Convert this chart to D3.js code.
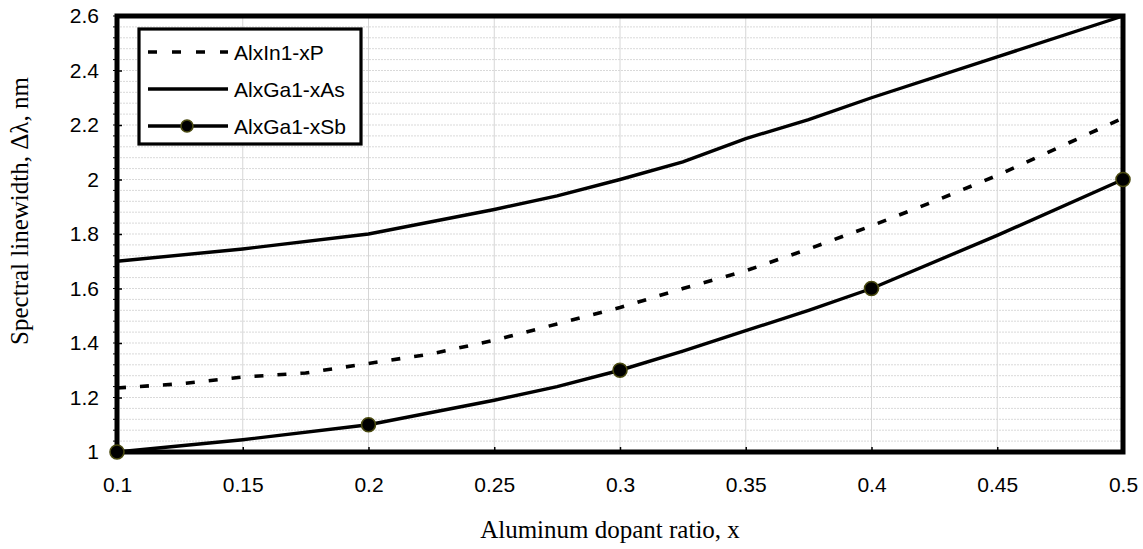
<!DOCTYPE html>
<html><head><meta charset="utf-8">
<script src="https://cdn.jsdelivr.net/npm/d3@7"></script>
<style>body{margin:0;background:#fff}</style>
</head><body>
<svg id="c" width="1143" height="549"></svg>
<script>
const xInP = [0.1,0.125,0.15,0.175,0.2,0.225,0.25,0.275,0.3,0.325,0.35,0.375,0.4,0.425,0.45,0.475,0.5];
const yInP = [1.235,1.25,1.275,1.29,1.325,1.36,1.41,1.47,1.53,1.60,1.665,1.745,1.83,1.92,2.015,2.12,2.225];
const xGaAs = [0.1,0.15,0.2,0.25,0.275,0.3,0.325,0.35,0.375,0.4,0.45,0.5];
const yGaAs = [1.70,1.745,1.80,1.89,1.94,2.00,2.065,2.15,2.22,2.30,2.45,2.60];
const xGaSb = [0.1,0.15,0.2,0.25,0.275,0.3,0.325,0.35,0.375,0.4,0.45,0.5];
const yGaSb = [1.0,1.045,1.10,1.19,1.24,1.30,1.37,1.445,1.52,1.60,1.795,2.0];
const xMarkers = [0.1,0.2,0.3,0.4,0.5];
const yMarkers = [1.0,1.1,1.3,1.6,2.0];
const xTicks = [0.1,0.15,0.2,0.25,0.3,0.35,0.4,0.45,0.5];
const yTicks = [1,1.2,1.4,1.6,1.8,2,2.2,2.4,2.6];
const seriesNames = ["AlxIn1-xP","AlxGa1-xAs","AlxGa1-xSb"];

const L=117,R=1123,T=16,B=452;
const svg=d3.select("#c");
const x=d3.scaleLinear().domain([0.1,0.5]).range([L,R]);
const y=d3.scaleLinear().domain([1,2.6]).range([B,T]);
const sans="Liberation Sans, Arial", serif="Liberation Serif, Times New Roman";

// gridlines
const minorY=d3.range(1,2.6001,0.04);
svg.append("g").selectAll("line").data(minorY).join("line")
  .attr("x1",L).attr("x2",R).attr("y1",d=>y(d)).attr("y2",d=>y(d))
  .attr("stroke","#d9d9d9").attr("stroke-width",1).attr("stroke-dasharray","2,1");
svg.append("g").selectAll("line").data(xTicks).join("line")
  .attr("x1",d=>x(d)).attr("x2",d=>x(d)).attr("y1",T).attr("y2",B)
  .attr("stroke","#d6d6d6").attr("stroke-width",1);

// axes ticks
const yAxis=d3.axisLeft(y).tickValues(yTicks).tickFormat(d3.format("")).tickSize(-5).tickPadding(18);
const gy=svg.append("g").attr("transform",`translate(${L},0)`).call(yAxis);
gy.select(".domain").remove();
gy.selectAll("line").attr("stroke","#000").attr("stroke-width",1.5);
gy.selectAll("text").attr("font-family",sans).attr("font-size",21).attr("fill","#000");
// minor ticks on left
svg.append("g").selectAll("line").data(minorY).join("line")
  .attr("x1",L-4).attr("x2",L).attr("y1",d=>y(d)).attr("y2",d=>y(d)).attr("stroke","#000").attr("stroke-width",1);

const xAxis=d3.axisBottom(x).tickValues(xTicks).tickFormat(d3.format("")).tickSize(-5).tickPadding(25);
const gx=svg.append("g").attr("transform",`translate(0,${B})`).call(xAxis);
gx.select(".domain").remove();
gx.selectAll("line").attr("stroke","#000").attr("stroke-width",1.5);
gx.selectAll("text").attr("font-family",sans).attr("font-size",21).attr("fill","#000");

// lines
const line=d3.line().x(d=>x(d[0])).y(d=>y(d[1]));
svg.append("path").datum(d3.zip(xInP,yInP)).attr("d",line)
  .attr("fill","none").attr("stroke","#000").attr("stroke-width",3.6).attr("stroke-dasharray","9,14");
svg.append("path").datum(d3.zip(xGaAs,yGaAs)).attr("d",line)
  .attr("fill","none").attr("stroke","#000").attr("stroke-width",3.4);
svg.append("path").datum(d3.zip(xGaSb,yGaSb)).attr("d",line)
  .attr("fill","none").attr("stroke","#000").attr("stroke-width",3.4);

// frame
svg.append("rect").attr("x",L).attr("y",T).attr("width",R-L).attr("height",B-T)
  .attr("fill","none").attr("stroke","#000").attr("stroke-width",5);

// markers
svg.append("g").selectAll("circle").data(d3.zip(xMarkers,yMarkers)).join("circle")
  .attr("cx",d=>x(d[0])).attr("cy",d=>y(d[1])).attr("r",7)
  .attr("fill","#000").attr("stroke","#4a4a10").attr("stroke-width",1.6);

// legend
const lg=svg.append("g");
lg.append("rect").attr("x",139).attr("y",29).attr("width",222).attr("height",115)
  .attr("fill","#fff").attr("stroke","#000").attr("stroke-width",3.2);
const ly=[52,89,126];
lg.append("line").attr("x1",148).attr("x2",228).attr("y1",ly[0]).attr("y2",ly[0])
  .attr("stroke","#000").attr("stroke-width",3.6).attr("stroke-dasharray","9,15");
lg.append("line").attr("x1",148).attr("x2",228).attr("y1",ly[1]).attr("y2",ly[1])
  .attr("stroke","#000").attr("stroke-width",3.4);
lg.append("line").attr("x1",148).attr("x2",228).attr("y1",ly[2]).attr("y2",ly[2])
  .attr("stroke","#000").attr("stroke-width",3.4);
lg.append("circle").attr("cx",187).attr("cy",ly[2]).attr("r",6)
  .attr("fill","#000").attr("stroke","#4a4a10").attr("stroke-width",1.6);
lg.selectAll("text").data(seriesNames).join("text")
  .attr("x",234).attr("y",(d,i)=>ly[i]).attr("dy","0.36em")
  .attr("font-family",sans).attr("font-size",21).text(d=>d);

// axis titles
svg.append("text").attr("x",610).attr("y",538).attr("text-anchor","middle")
  .attr("font-family",serif).attr("font-size",25).text("Aluminum dopant ratio, x");
svg.append("text").attr("transform",`translate(28,211) rotate(-90)`).attr("text-anchor","middle")
  .attr("font-family",serif).attr("font-size",25).text("Spectral linewidth, Δλ, nm");
</script>
</body></html>
